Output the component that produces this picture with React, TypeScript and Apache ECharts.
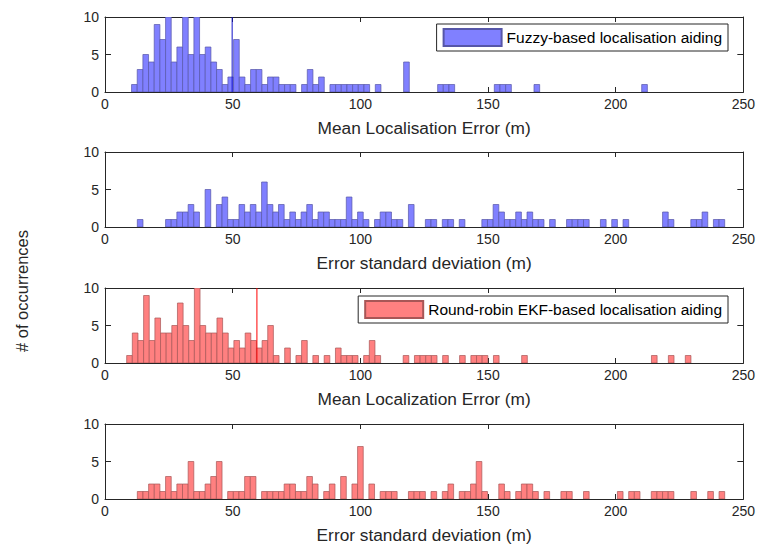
import React, { useEffect, useRef } from "react";
import * as echarts from "echarts";

// ---- data ----
const fuzzyMeanStart = 10.4;
const fuzzyMeanBinWidth = 2.22;
const fuzzyMeanCounts = [
  1, 3, 5, 4, 9, 7, 10, 4, 6, 10, 5, 10, 5, 6, 4, 3, 1, 2, 7, 2, 1, 3, 3, 1, 2, 2,
  1, 1, 1, 0, 1, 3, 1, 2, 0, 1, 1, 1, 1, 1, 1, 1, 0, 1, 0, 0, 0, 0, 4, 0, 0, 0, 0, 0,
  1, 1, 1, 0, 0, 0, 0, 0, 0, 0, 1, 1, 1, 0, 0, 0, 0, 1, 0, 0, 0, 0, 0, 0, 0, 0, 0, 0,
  0, 0, 0, 0, 0, 0, 0, 0, 1,
];

const fuzzyStdStart = 12.66;
const fuzzyStdBinWidth = 2.212;
const fuzzyStdCounts = [
  1, 0, 0, 0, 0, 1, 1, 2, 2, 3, 2, 0, 5, 0, 3, 4, 1, 1, 3, 2, 3, 2, 6, 3, 2, 3, 1, 2,
  1, 2, 3, 1, 2, 2, 1, 1, 1, 4, 1, 2, 1, 0, 1, 2, 2, 1, 1, 0, 3, 0, 0, 1, 1, 0, 1, 1,
  0, 1, 0, 0, 0, 1, 1, 3, 2, 1, 1, 2, 1, 2, 1, 1, 0, 1, 0, 0, 1, 1, 1, 1, 0, 0, 1, 0,
  1, 0, 1, 0, 0, 0, 0, 0, 0, 2, 1, 0, 0, 0, 1, 1, 2, 0, 1, 1,
];

const rrMeanStart = 8.49;
const rrMeanBinWidth = 2.21;
const rrMeanCounts = [
  1, 4, 3, 9, 3, 6, 4, 4, 5, 8, 5, 3, 10, 5, 4, 4, 6, 4, 2, 3, 2, 4, 3, 2, 3, 5, 1, 0,
  2, 0, 1, 3, 0, 1, 0, 1, 0, 2, 1, 1, 1, 0, 1, 3, 1, 0, 0, 0, 0, 1, 0, 1, 1, 1, 1, 0,
  1, 0, 0, 1, 0, 1, 1, 1, 0, 1, 0, 0, 0, 0, 1, 0, 0, 0, 0, 0, 0, 0, 0, 0, 0, 0, 0, 0,
  0, 0, 0, 0, 0, 0, 0, 0, 0, 1, 0, 0, 1, 0, 0, 1,
];

const rrStdStart = 12.66;
const rrStdBinWidth = 2.212;
const rrStdCounts = [
  1, 1, 2, 2, 1, 3, 1, 2, 2, 5, 1, 1, 2, 3, 5, 0, 1, 1, 1, 3, 3, 0, 1, 1, 1, 1, 2, 2,
  1, 1, 3, 2, 0, 1, 2, 0, 3, 0, 2, 7, 0, 2, 0, 1, 1, 1, 0, 0, 1, 1, 1, 0, 1, 0, 1, 2,
  0, 1, 1, 2, 5, 1, 0, 0, 2, 1, 0, 1, 2, 2, 1, 0, 1, 0, 0, 1, 1, 0, 0, 1, 0, 0, 0, 0,
  0, 1, 0, 1, 1, 0, 0, 1, 1, 1, 1, 0, 0, 0, 1, 0, 0, 1, 0, 1,
];

const fuzzyMeanMarker = 49.8;
const rrMeanMarker = 59.5;

const xMin = 0;
const xMax = 250;
const xInterval = 50;
const yMin = 0;
const yMax = 10;
const yInterval = 5;

const xTitles = [
  "Mean Localisation Error (m)",
  "Error standard deviation (m)",
  "Mean Localization Error (m)",
  "Error standard deviation (m)",
];
const seriesNames = [
  "Fuzzy-based localisation aiding",
  "Fuzzy-based std",
  "Round-robin EKF-based localisation aiding",
  "Round-robin std",
];
const yTitle = "# of occurrences";

// ---- styling ----
const FONT = '"Liberation Sans", Arial, Helvetica, sans-serif';
const AXIS = "#262626";
const BLUE_FILL = "#8080ff";
const BLUE_EDGE = "#5656a8";
const RED_FILL = "#ff8080";
const RED_EDGE = "#a85656";

function toBins(start: number, width: number, counts: number[]) {
  const out: number[][] = [];
  counts.forEach((c, i) => {
    if (c > 0) out.push([start + i * width, start + (i + 1) * width, c]);
  });
  return out;
}

export default function App() {
  const ref = useRef<HTMLDivElement>(null);

  useEffect(() => {
    if (!ref.current) return;
    const chart = echarts.init(ref.current, undefined, { renderer: "svg" });

    const hist = [
      { start: fuzzyMeanStart, w: fuzzyMeanBinWidth, counts: fuzzyMeanCounts, fill: BLUE_FILL, edge: BLUE_EDGE },
      { start: fuzzyStdStart, w: fuzzyStdBinWidth, counts: fuzzyStdCounts, fill: BLUE_FILL, edge: BLUE_EDGE },
      { start: rrMeanStart, w: rrMeanBinWidth, counts: rrMeanCounts, fill: RED_FILL, edge: RED_EDGE },
      { start: rrStdStart, w: rrStdBinWidth, counts: rrStdCounts, fill: RED_FILL, edge: RED_EDGE },
    ];

    const gridTops = [17, 152, 288, 424];
    const gridHeight = 75;

    const grids = gridTops.map((t) => ({ left: 105, right: 14, top: t, height: gridHeight }));

    const xAxes: any[] = [];
    const yAxes: any[] = [];
    gridTops.forEach((_, p) => {
      xAxes.push({
        gridIndex: p,
        type: "value",
        position: "bottom",
        min: xMin,
        max: xMax,
        interval: xInterval,
        axisLine: { show: true, onZero: false, lineStyle: { color: AXIS, width: 1 } },
        axisTick: { show: true, inside: true, length: 5, lineStyle: { color: AXIS } },
        axisLabel: { show: true, fontSize: 14, color: AXIS, margin: 5, fontFamily: FONT },
        splitLine: { show: false },
        name: xTitles[p],
        nameLocation: "middle",
        nameGap: 27,
        nameTextStyle: { fontSize: 17.3, color: AXIS, fontFamily: FONT },
      });
      xAxes.push({
        gridIndex: p,
        type: "value",
        position: "top",
        min: xMin,
        max: xMax,
        interval: xInterval,
        axisLine: { show: true, onZero: false, lineStyle: { color: AXIS, width: 1 } },
        axisTick: { show: true, inside: true, length: 5, lineStyle: { color: AXIS } },
        axisLabel: { show: false },
        splitLine: { show: false },
      });
      yAxes.push({
        gridIndex: p,
        type: "value",
        position: "left",
        min: yMin,
        max: yMax,
        interval: yInterval,
        axisLine: { show: true, onZero: false, lineStyle: { color: AXIS, width: 1 } },
        axisTick: { show: true, inside: true, length: 6, lineStyle: { color: AXIS } },
        axisLabel: { show: true, fontSize: 14, color: AXIS, margin: 6, fontFamily: FONT },
        splitLine: { show: false },
      });
      yAxes.push({
        gridIndex: p,
        type: "value",
        position: "right",
        min: yMin,
        max: yMax,
        interval: yInterval,
        axisLine: { show: true, onZero: false, lineStyle: { color: AXIS, width: 1 } },
        axisTick: { show: true, inside: true, length: 6, lineStyle: { color: AXIS } },
        axisLabel: { show: false },
        splitLine: { show: false },
      });
    });

    const series: any[] = hist.map((h, p) => ({
      type: "custom",
      name: seriesNames[p],
      xAxisIndex: 2 * p,
      yAxisIndex: 2 * p,
      clip: true,
      itemStyle: { color: h.fill, borderColor: h.edge, borderWidth: 0.7 },
      encode: { x: [0, 1], y: 2 },
      data: toBins(h.start, h.w, h.counts),
      renderItem: (_params: any, api: any) => {
        const x0 = api.value(0);
        const x1 = api.value(1);
        const c = api.value(2);
        const a = api.coord([x0, c]);
        const b = api.coord([x1, 0]);
        return {
          type: "rect",
          shape: { x: a[0], y: a[1], width: b[0] - a[0], height: b[1] - a[1] },
          style: { fill: h.fill, stroke: h.edge, lineWidth: 0.7 },
        };
      },
    }));

    series.push({
      type: "line",
      name: "fuzzy mean",
      xAxisIndex: 0,
      yAxisIndex: 0,
      symbol: "none",
      lineStyle: { color: "#1010c8", width: 1 },
      data: [
        [fuzzyMeanMarker, yMin],
        [fuzzyMeanMarker, yMax],
      ],
      z: 5,
    });
    series.push({
      type: "line",
      name: "rr mean",
      xAxisIndex: 4,
      yAxisIndex: 4,
      symbol: "none",
      lineStyle: { color: "#ff0000", width: 1 },
      data: [
        [rrMeanMarker, yMin],
        [rrMeanMarker, yMax],
      ],
      z: 5,
    });

    const legendCommon = {
      orient: "horizontal",
      icon: "rect",
      itemWidth: 58,
      itemHeight: 17,
      padding: [4, 6, 4, 6],
      borderColor: AXIS,
      borderWidth: 1,
      backgroundColor: "#ffffff",
      borderRadius: 0,
      selectedMode: false,
      textStyle: { fontSize: 15.5, color: "#000000", fontFamily: FONT, padding: [0, 0, 0, 0] },
    };

    chart.setOption({
      animation: false,
      backgroundColor: "#ffffff",
      grid: grids,
      xAxis: xAxes,
      yAxis: yAxes,
      legend: [
        { ...legendCommon, data: [seriesNames[0]], right: 30, top: 24 },
        { ...legendCommon, data: [seriesNames[2]], right: 30, top: 296 },
      ],
      graphic: [
        {
          type: "text",
          x: 22,
          y: 291,
          rotation: Math.PI / 2,
          style: {
            text: yTitle,
            fontSize: 16.5,
            fontFamily: FONT,
            fill: AXIS,
            align: "center",
            verticalAlign: "middle",
          },
        },
      ],
      series,
    });

    return () => chart.dispose();
  }, []);

  return (
    <div
      ref={ref}
      style={{ position: "fixed", left: 0, top: 0, width: 758, height: 544, background: "#fff" }}
    />
  );
}
